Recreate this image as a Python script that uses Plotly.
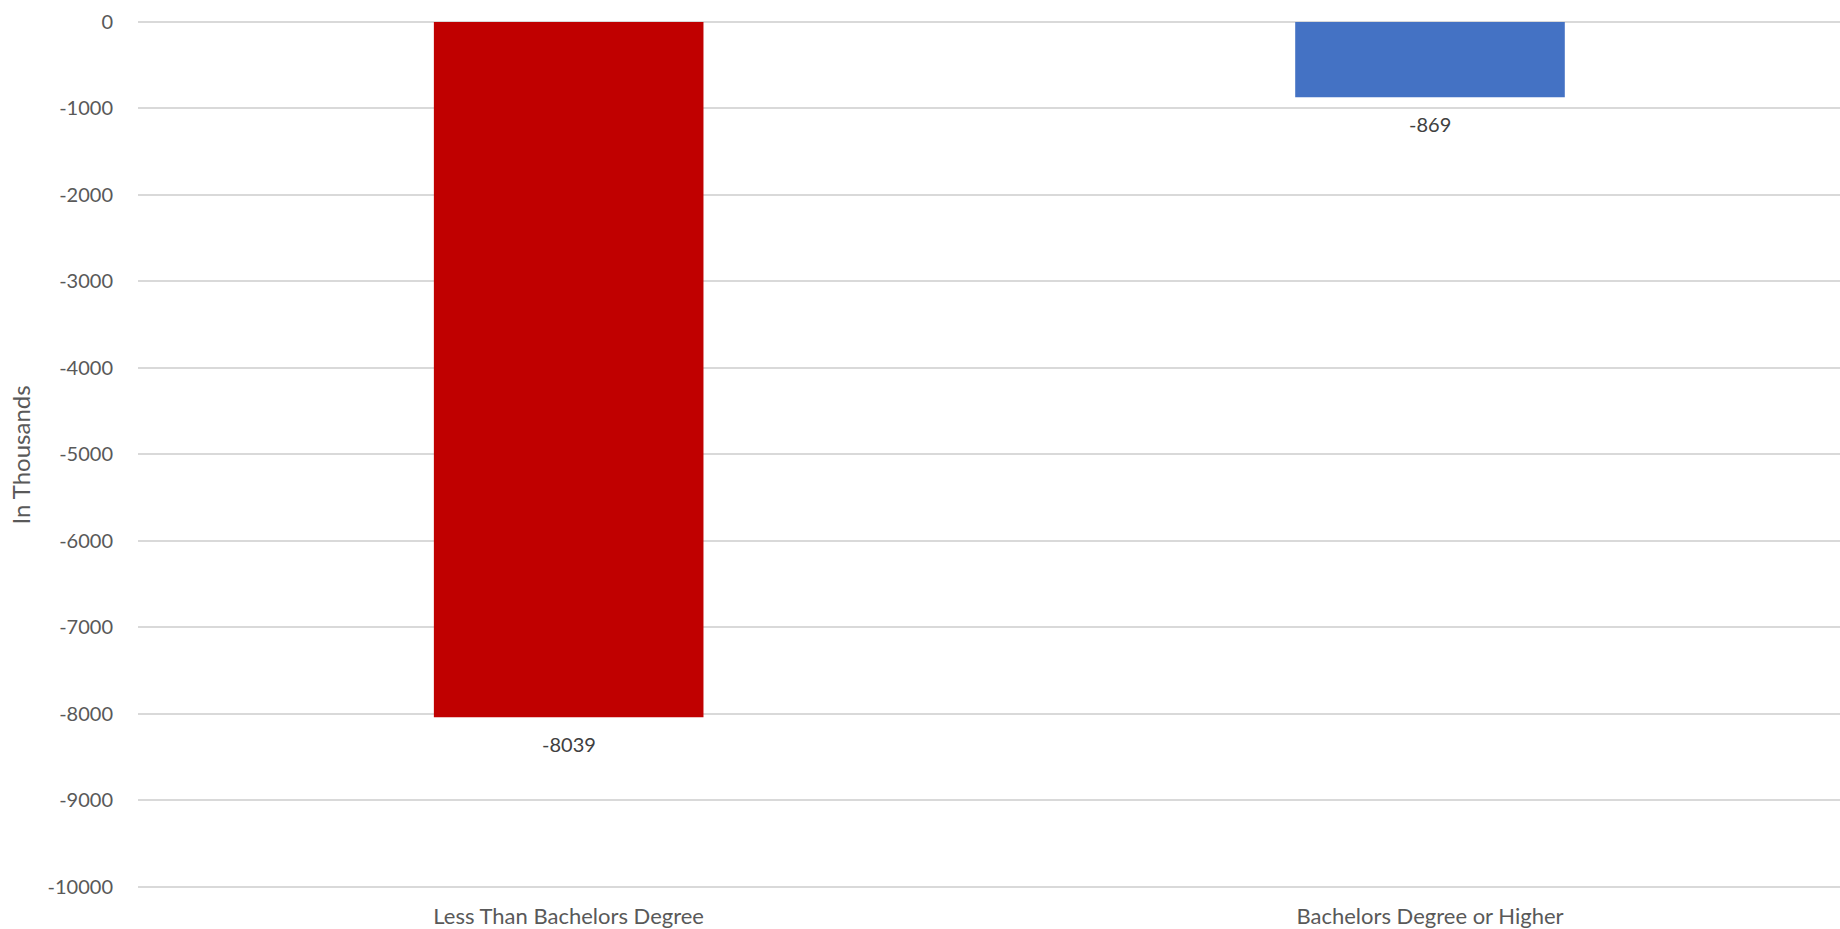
import plotly.graph_objects as go

categories = ["Less Than Bachelors Degree", "Bachelors Degree or Higher"]
values = [-8039, -869]
colors = ["#C00000", "#4472C4"]
tick_vals = [0, -1000, -2000, -3000, -4000, -5000, -6000, -7000, -8000, -9000, -10000]
tick_text = [str(v) for v in tick_vals]

fig = go.Figure()
fig.add_trace(go.Bar(
    x=categories, y=values, marker=dict(color=colors, line=dict(width=0)),
    width=0.313, showlegend=False, hoverinfo="x+y",
))

for c, v in zip(categories, values):
    fig.add_annotation(x=c, y=v, text=str(v), showarrow=False, xanchor="center",
                       yanchor="middle", yshift=-26.5,
                       font=dict(family="Lato", size=20, color="#404040"))

fig.update_layout(
    width=1840, height=929,
    margin=dict(l=138, r=0, t=22, b=41),
    plot_bgcolor="white", paper_bgcolor="white",
    font=dict(family="Lato", size=20, color="#595959"),
    xaxis=dict(range=[-0.5, 1.476], showgrid=False, showline=False, zeroline=False,
               ticks="outside", ticklen=9, tickcolor="rgba(0,0,0,0)",
               tickfont=dict(family="Lato", size=22, color="#595959"),
               automargin=False),
    yaxis=dict(range=[-10015, 0], tickvals=tick_vals, ticktext=tick_text,
               showgrid=True, gridcolor="#D9D9D9", gridwidth=1.5,
               zeroline=True, zerolinecolor="#D9D9D9", zerolinewidth=1.5,
               showline=False, ticks="outside", ticklen=20, tickcolor="rgba(0,0,0,0)",
               tickfont=dict(family="Lato", size=20, color="#595959"),
               title=dict(text="In Thousands", standoff=10,
                          font=dict(family="Lato", size=24, color="#595959")),
               automargin=False),
)

fig.write_html("out.html")
